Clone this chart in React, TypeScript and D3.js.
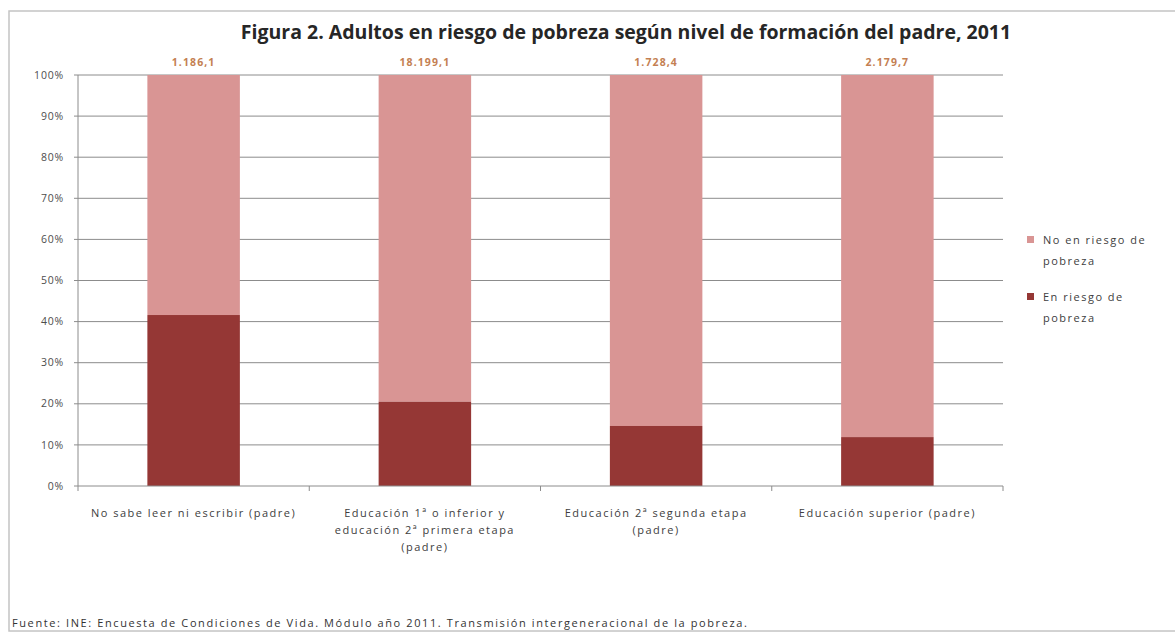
import * as d3 from 'd3';

const categories = [
  ['No sabe leer ni escribir (padre)'],
  ['Educación 1ª o inferior y', 'educación 2ª primera etapa', '(padre)'],
  ['Educación 2ª segunda etapa', '(padre)'],
  ['Educación superior (padre)'],
];
const enRiesgo = [41.6, 20.5, 14.6, 11.9];
const totals = ['1.186,1', '18.199,1', '1.728,4', '2.179,7'];
const yTicks = [0, 10, 20, 30, 40, 50, 60, 70, 80, 90, 100];
const legendItems = [
  { lines: ['No en riesgo de', 'pobreza'], color: '#d99594' },
  { lines: ['En riesgo de', 'pobreza'], color: '#953735' },
];

const W = 1175, H = 634;
const margin = { top: 75, right: 172, bottom: 148, left: 78 };
const font = 'Open Sans, sans-serif';

export default function App() {
  const innerW = W - margin.left - margin.right;
  const innerH = H - margin.top - margin.bottom;

  const x = d3.scaleBand<number>()
    .domain(d3.range(categories.length))
    .range([0, innerW])
    .paddingInner(0.6)
    .paddingOuter(0.3);
  const y = d3.scaleLinear().domain([0, 100]).range([innerH, 0]);
  const step = x.step();

  return (
    <svg width={W} height={H} style={{ position: 'absolute', left: 0, top: 0, background: '#fff' }}>
      <rect x={9} y={11} width={1180} height={620} fill="none" stroke="#c4c4c4" strokeWidth={1.5} />
      <text x={626} y={39} textAnchor="middle" fontFamily={font} fontWeight={700} fontSize={19.5} fill="#262626">
        Figura 2. Adultos en riesgo de pobreza según nivel de formación del padre, 2011
      </text>
      <g transform={`translate(${margin.left},${margin.top})`}>
        {yTicks.map(t => (
          <g key={t} transform={`translate(0,${y(t)})`}>
            <line x1={-4} x2={t === 0 ? 0 : innerW} stroke="#8c8c8c" strokeWidth={1} />
            <text x={-14} dy="0.35em" textAnchor="end" fontFamily={font} fontSize={10.5} letterSpacing={0.8} fill="#4d4d4d">{t}%</text>
          </g>
        ))}
        {categories.map((c, i) => {
          const bx = x(i)!;
          const bw = x.bandwidth();
          const r = enRiesgo[i];
          return (
            <g key={i}>
              <rect x={bx} y={y(100)} width={bw} height={y(r) - y(100)} fill="#d99594" />
              <rect x={bx} y={y(r)} width={bw} height={innerH - y(r)} fill="#953735" />
              <text x={bx + bw / 2} y={-9} textAnchor="middle" fontFamily={font} fontWeight={700} fontSize={10.5} letterSpacing={1.1} fill="#c47f52">{totals[i]}</text>
              {c.map((line, j) => (
                <text key={j} x={bx + bw / 2} y={innerH + 31 + j * 17} textAnchor="middle" fontFamily={font} fontSize={11} letterSpacing={1.5} fill="#404040">{line}</text>
              ))}
            </g>
          );
        })}
        <line x1={0} x2={innerW} y1={innerH} y2={innerH} stroke="#8c8c8c" />
        <line x1={0} x2={0} y1={0} y2={innerH} stroke="#8c8c8c" />
        {d3.range(categories.length + 1).map(i => (
          <line key={i} x1={i * step} x2={i * step} y1={innerH} y2={innerH + 5} stroke="#8c8c8c" />
        ))}
      </g>
      {legendItems.map((it, i) => (
        <g key={i} transform={`translate(1027,${236 + i * 57})`}>
          <rect x={0} y={0} width={7} height={7} fill={it.color} />
          {it.lines.map((l, j) => (
            <text key={j} x={16} y={8 + j * 21} fontFamily={font} fontSize={11} letterSpacing={1.5} fill="#404040">{l}</text>
          ))}
        </g>
      ))}
      <text x={12} y={627} fontFamily={font} fontSize={11} letterSpacing={1.6} fill="#333">
        Fuente: INE: Encuesta de Condiciones de Vida. Módulo año 2011. Transmisión intergeneracional de la pobreza.
      </text>
    </svg>
  );
}
